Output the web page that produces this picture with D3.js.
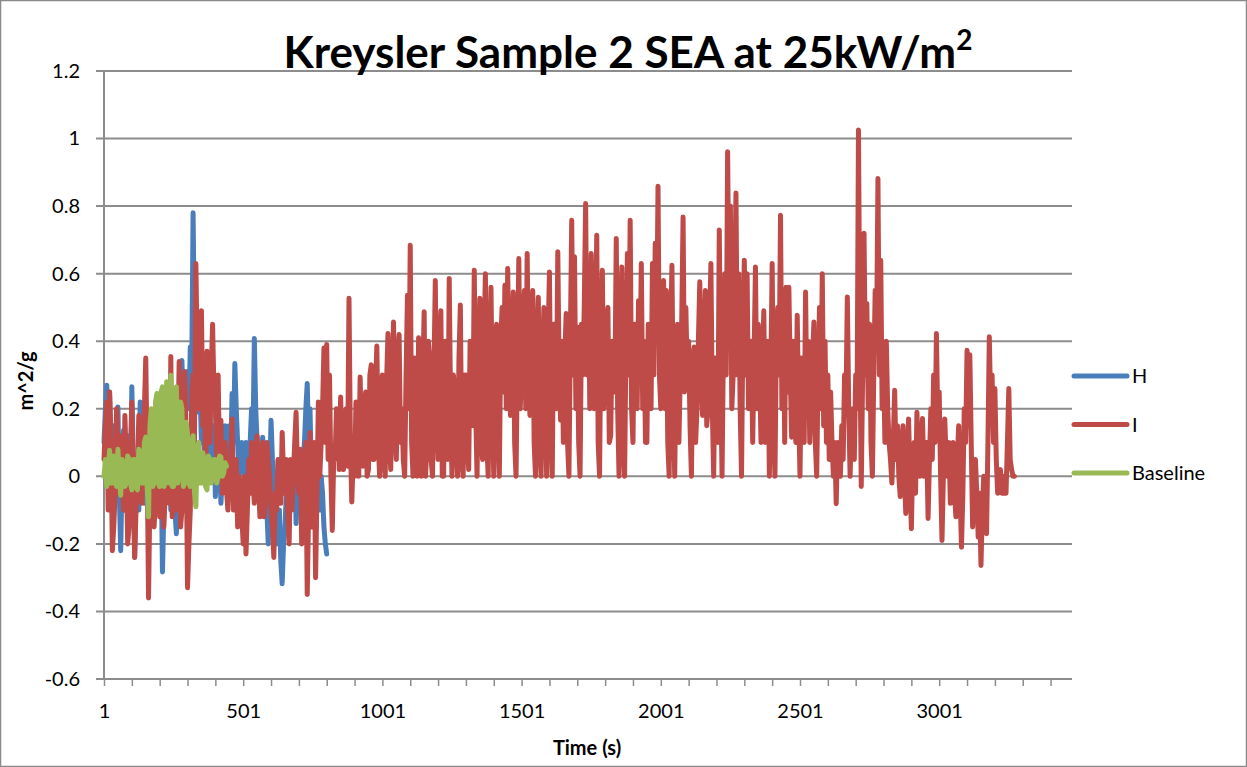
<!DOCTYPE html>
<html><head><meta charset="utf-8">
<script src="https://cdn.jsdelivr.net/npm/d3@7"></script>
<style>
body{margin:0;background:#fff}
svg{display:block}
text{font-family:Lato,"Open Sans",sans-serif;fill:#000}
</style>
</head><body>
<svg id="c" width="1247" height="767"></svg>
<script>
// ---- data ----
const seriesNames = ["H", "I", "Baseline"];
const timeStep = 5; // seconds between stored samples (t = 1 + step*i)
const hValues = [0.1,0.2,0.27,0.0,0.25,0.1,0.05,0.15,-0.02,0.1,0.205,-0.05,-0.22,0.0,0.136,-0.1,0.0,0.1,0.12,-0.05,
0.265,0.05,-0.24,-0.05,0.05,-0.1,0.22,0.0,0.06,-0.08,-0.05,0.1,0.04,-0.1,-0.1,0.05,-0.13,-0.05,0.05,-0.1,
0.0,0.05,-0.283,-0.1,0.1,0.0,0.25,0.05,-0.1,0.0,0.05,-0.1,-0.17,0.0,0.1,0.2,0.343,0.15,0.2,0.25,
0.31,0.2,0.383,0.3,0.78,0.4,0.35,0.2,0.19,0.25,0.1,0.15,0.077,0.0,0.15,0.05,0.196,0.1,0.05,0.15,
-0.06,0.05,0.245,0.05,-0.08,0.0,0.05,0.15,0.077,0.0,0.15,0.05,0.245,0.1,0.334,0.2,0.1,0.0,0.03,0.1,
0.08,0.0,0.1,0.05,0.05,0.1,0.2,0.1,0.408,0.2,0.1,0.0,-0.1,0.05,0.116,-0.05,0.0,-0.1,-0.2,0.0,
0.166,0.05,0.0,-0.1,-0.2,-0.15,-0.1,-0.25,-0.318,-0.2,-0.15,-0.05,-0.08,-0.15,0.0,-0.05,-0.05,0.05,-0.14,-0.05,
0.0,-0.1,-0.03,0.05,0.1,0.2,0.275,0.1,0.2,0.0,0.05,-0.05,-0.08,0.05,0.08,-0.1,0.0,-0.05,-0.15,-0.2,
-0.23];
const iValues = [
0.05,0.15,0.22,-0.1,0.25,0.1,-0.22,-0.15,-0.05,0.2,0.1,-0.05,0.12,0.0,-0.1,0.18,0.05,-0.2,-0.15,0.05,
0.22,0.0,-0.24,-0.1,0.0,0.18,0.13,-0.08,0.0,0.2,0.35,0.05,-0.36,-0.05,-0.1,0.1,-0.15,-0.05,0.0,0.15,
-0.12,0.08,0.05,-0.15,-0.05,0.12,0.1,-0.08,0.355,-0.12,-0.05,0.15,-0.1,0.1,0.34,-0.15,-0.1,0.05,0.31,0.1,
-0.33,-0.2,-0.1,0.25,0.3,0.1,0.63,0.35,0.2,0.45,0.49,0.15,0.3,0.0,0.37,0.2,0.1,0.3,0.45,0.25,
0.2,0.05,0.3,0.0,0.166,-0.05,0.05,0.1,-0.04,-0.1,0.0,0.05,0.17,-0.1,-0.05,0.05,-0.15,0.0,-0.02,-0.12,
-0.2,0.0,-0.23,-0.1,0.05,-0.05,0.1,0.0,-0.08,0.08,0.12,0.0,-0.12,-0.03,0.1,-0.12,-0.08,0.1,0.05,0.0,
-0.1,-0.15,-0.24,-0.05,-0.1,0.05,0.0,-0.08,0.13,0.0,-0.05,0.05,-0.12,-0.2,0.05,-0.1,0.0,0.1,0.19,0.0,
-0.05,0.08,-0.2,-0.1,0.0,0.1,-0.35,-0.1,0.13,-0.15,0.05,0.1,-0.3,-0.05,0.22,0.0,0.1,0.2,0.38,0.1,
0.39,0.05,0.30,0.0,
-0.16,0.05,0.05,0.2,0.176,0.02,0.235,0.05,0.02,0.18,0.2,0.03,0.527,0.1,-0.076,0.05,
0.0,0.22,0.15,0.0,0.294,0.1,0.03,0.2,0.25,0.0,0.02,0.3,0.33,0.05,0.05,0.25,0.386,0.1,0.0,0.2,
0.3,0.05,0.0,0.28,0.423,0.1,0.02,0.3,0.457,0.15,0.05,0.35,0.42,0.1,0.2,0.05,0.0,0.3,0.536,0.2,
0.684,0.1,0.0,0.35,0.25,0.0,0.41,0.2,0.0,0.3,0.487,0.0,0.1,0.4,0.35,0.05,0.0,0.3,0.58,0.2,
0.05,0.35,0.49,0.0,0.0,0.4,0.3,0.05,0.586,0.2,0.0,0.3,0.25,0.1,0.0,0.35,0.507,0.05,0.0,0.3,
0.3,0.1,0.02,0.4,0.31,0.15,0.61,0.2,0.0,0.35,0.527,0.1,0.05,0.4,0.60,0.1,0.0,0.35,0.56,0.2,
0.0,0.4,0.45,0.15,0.0,0.4,0.5,0.25,0.566,0.2,0.615,0.3,0.18,0.4,0.546,0.1,0.0,0.35,0.645,0.2,
0.3,0.45,0.55,0.2,0.66,0.3,0.18,0.4,0.55,0.1,0.0,0.4,0.53,0.1,0.0,0.35,0.5,0.2,0.0,0.4,
0.605,0.15,0.0,0.45,0.45,0.2,0.665,0.3,0.166,0.4,0.1,0.35,0.482,0.1,0.0,0.4,0.758,0.3,0.65,0.2,
0.442,0.1,0.0,0.45,0.3,0.5,0.808,0.3,0.62,0.2,0.66,0.35,0.2,0.45,0.714,0.1,0.0,0.45,0.61,0.2,
0.3,0.45,0.5,0.1,0.12,0.4,0.4,0.25,0.704,0.2,0.0,0.45,0.62,0.1,0.0,0.4,0.66,0.3,0.758,0.2,
0.1,0.45,0.4,0.2,0.52,0.3,0.63,0.2,0.4,0.1,0.1,0.45,0.35,0.2,0.63,0.3,0.69,0.4,0.859,0.3,
0.2,0.45,0.58,0.2,0.55,0.1,0.0,0.4,0.625,0.2,0.0,0.35,0.45,0.1,0.3,0.45,0.768,0.25,0.5,0.3,
0.4,0.15,0.0,0.35,0.383,0.1,0.2,0.4,0.576,0.3,0.18,0.4,0.55,0.15,0.2,0.45,0.63,0.2,0.0,0.35,
0.3,0.1,0.729,0.3,0.0,0.4,0.6,0.3,0.961,0.5,0.8,0.2,0.3,0.55,0.839,0.3,0.6,0.2,0.0,0.45,
0.64,0.3,0.6,0.2,0.3,0.4,0.1,0.35,0.62,0.2,0.45,0.3,0.1,0.35,0.49,0.1,0.25,0.4,0.0,0.3,
0.63,0.15,0.0,0.4,0.5,0.3,0.773,0.2,0.55,0.1,0.56,0.25,0.56,0.3,0.116,0.4,0.35,0.1,0.477,0.2,
0.0,0.35,0.3,0.1,0.546,0.2,0.4,0.1,0.2,0.35,0.457,0.1,0.0,0.3,0.5,0.2,0.60,0.15,0.4,0.1,
0.3,0.05,0.25,0.1,0.0,0.1,-0.081,0.1,0.05,0.0,0.15,0.05,0.3,0.2,0.531,0.2,0.0,0.15,0.2,0.05,
0.3,0.2,1.025,0.4,-0.03,0.3,0.72,0.3,0.512,0.2,0.45,0.1,0.0,0.3,0.55,0.4,0.882,0.3,0.64,0.2,
0.35,0.1,0.4,0.2,0.1,0.05,-0.02,0.1,0.255,0.05,0.15,0.0,-0.06,0.1,0.15,0.0,-0.11,0.05,0.17,0.0,
-0.155,0.05,0.1,-0.05,0.19,0.05,0.0,0.1,0.171,0.0,0.05,0.1,-0.125,0.05,0.2,0.05,0.3,0.1,0.423,0.15,
0.25,0.0,-0.19,0.0,0.17,0.05,0.0,0.1,-0.08,0.05,0.1,-0.05,-0.12,0.05,0.15,-0.05,-0.21,-0.05,0.2,0.1,
0.373,0.15,0.36,0.1,-0.15,0.0,0.05,-0.05,-0.18,-0.05,-0.264,-0.1,0.0,-0.05,-0.17,0.1,0.413,0.2,0.3,0.1,
0.26,0.05,-0.05,0.0,0.02,-0.05,-0.05,0.0,-0.05,0.1,0.26,0.05,0.02,0.0,0.0];
const baselineValues = [0.0,0.05,-0.03,0.0,0.077,-0.02,-0.02,0.06,0.04,-0.03,0.08,0.0,-0.056,0.05,0.035,-0.03,-0.02,0.06,0.05,-0.02,
-0.04,0.05,0.05,-0.03,-0.04,0.08,0.07,-0.02,-0.02,0.1,0.116,-0.03,-0.12,0.15,0.2,-0.03,-0.02,0.22,0.245,-0.02,
-0.03,0.25,0.265,-0.03,-0.02,0.28,0.245,-0.02,0.299,-0.03,-0.03,0.25,0.265,-0.02,0.0,0.22,0.2,-0.03,-0.02,0.16,
0.127,-0.02,-0.03,0.1,0.12,-0.05,-0.09,0.08,0.1,-0.02,-0.02,0.07,0.047,-0.03,-0.04,0.06,0.05,-0.02,0.0,0.05,
0.05,-0.02,0.0,0.06,0.057,0.0,0.01,0.04,0.03];
const yTickValues = [-0.6,-0.4,-0.2,0,0.2,0.4,0.6,0.8,1,1.2];
const xTickLabels = [1,501,1001,1501,2001,2501,3001];
const xMajorTicks = [1,101,201,301,401,501,601,701,801,901,1001,1101,1201,1301,1401,1501,1601,1701,1801,1901,2001,2101,2201,2301,2401,2501,2601,2701,2801,2901,3001,3101,3201,3301,3401];
const colors = {H:"#4A7EBB", I:"#BE4B48", Baseline:"#98B954"};
const titleText = "Kreysler Sample 2 SEA at 25kW/m";

// ---- chart ----
const svg = d3.select("#c");
const W = 1247, H = 767;
const plot = {left:104, right:1072, top:71, bottom:679};
const x = d3.scaleLinear().domain([1, 3478]).range([plot.left, plot.right]);
const y = d3.scaleLinear().domain([-0.6, 1.2]).range([plot.bottom, plot.top]);

svg.append("rect").attr("x",0.5).attr("y",0.5).attr("width",W-1).attr("height",H-1)
  .attr("fill","#fff").attr("stroke","#8a8a8a").attr("stroke-width",1.5);

// gridlines
svg.append("g").selectAll("line").data(yTickValues).join("line")
  .attr("x1", plot.left-8).attr("x2", plot.right)
  .attr("y1", d=>y(d)).attr("y2", d=>y(d))
  .attr("stroke","#8c8c8c").attr("stroke-width",2);

// y axis
const yAxis = d3.axisLeft(y).tickValues(yTickValues).tickSize(0).tickPadding(24)
  .tickFormat(d => String(+d.toFixed(1)));
const yg = svg.append("g").attr("transform",`translate(${plot.left},0)`).call(yAxis);
yg.select(".domain").remove();
yg.selectAll("text").attr("font-size",20).style("font-family","Lato");
svg.append("line").attr("x1",plot.left).attr("x2",plot.left).attr("y1",plot.top).attr("y2",plot.bottom)
  .attr("stroke","#8c8c8c").attr("stroke-width",2);

// x axis
const xAxis = d3.axisBottom(x).tickValues(xMajorTicks).tickSize(7)
  .tickFormat(d => xTickLabels.includes(d) ? String(d) : "");
const xg = svg.append("g").attr("transform",`translate(0,${plot.bottom})`).call(xAxis);
xg.select(".domain").attr("stroke","#8c8c8c").attr("stroke-width",2).attr("d",`M${plot.left},0H${plot.right}`);
xg.selectAll(".tick line").attr("stroke","#8c8c8c").attr("stroke-width",1.5);
xg.selectAll("text").attr("font-size",20).attr("dy","1.45em").style("font-family","Lato");

// series
const seriesData = {H:hValues, I:iValues, Baseline:baselineValues};
const line = d3.line().x((d,i)=>x(1+timeStep*i)).y(d=>y(d));
seriesNames.forEach(n=>{
  svg.append("path").datum(seriesData[n]).attr("d",line)
    .attr("fill","none").attr("stroke",colors[n]).attr("stroke-width",5)
    .attr("stroke-linejoin","round").attr("stroke-linecap","round");
});

// title
const t = svg.append("text").attr("x",628).attr("y",68).attr("text-anchor","middle")
  .attr("font-size",44).attr("font-weight","bold").text(titleText);
t.append("tspan").attr("font-size",28).attr("dy",-18).text("2");

// axis titles
svg.append("text").attr("x",587).attr("y",755).attr("text-anchor","middle")
  .attr("font-size",20).attr("font-weight","bold").text("Time (s)");
svg.append("text").attr("transform","translate(33,381) rotate(-90)").attr("text-anchor","middle")
  .attr("font-size",20).attr("font-weight","bold").text("m^2/g");

// legend
const lg = svg.append("g");
seriesNames.forEach((n,k)=>{
  const yy = 376 + k*48.5;
  lg.append("line").attr("x1",1074).attr("x2",1127).attr("y1",yy).attr("y2",yy)
    .attr("stroke",colors[n]).attr("stroke-width",5).attr("stroke-linecap","round");
  lg.append("text").attr("x",1132).attr("y",yy+7).attr("font-size",20).text(n);
});
</script>
</body></html>
